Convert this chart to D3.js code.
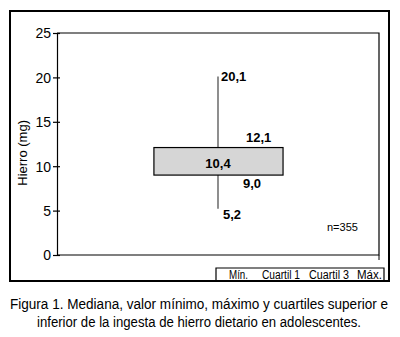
<!DOCTYPE html>
<html>
<head>
<meta charset="utf-8">
<script src="https://cdn.jsdelivr.net/npm/d3@7"></script>
<style>
  body { margin: 0; background: #fff; }
  text { font-family: "Liberation Sans", Arial, sans-serif; fill: #000; }
</style>
</head>
<body>
<div id="chart"></div>
<script>
// box plot stats (mg de hierro)
const statNames = ["Mín.", "Cuartil 1", "Cuartil 3", "Máx."];
const statValues = [5.2, 9.0, 12.1, 20.1];
const median = 10.4;
const yTicks = [0, 5, 10, 15, 20, 25];
const nLabel = "n=355";
const caption = [
    "Figura 1. Mediana, valor mínimo, máximo y cuartiles superior e",
    "inferior de la ingesta de hierro dietario en adolescentes."
];

const fmt = d3.formatLocale({ decimal: ",", thousands: ".", grouping: [3], currency: ["", ""] }).format(".1f");

const width = 400;
const height = 337;

const svg = d3.select("#chart")
    .append("svg")
    .attr("width", width)
    .attr("height", height);

// outer frame
svg.append("rect")
    .attr("x", 10).attr("y", 11)
    .attr("width", 379).attr("height", 270)
    .attr("fill", "none")
    .attr("stroke", "#000")
    .attr("stroke-width", 2);

const x = d3.scaleLinear().domain([0, 1]).range([57, 379]);
const y = d3.scaleLinear().domain([0, 25]).range([255, 33]);

// y axis with crossing ticks
const yAxis = svg.append("g")
    .attr("transform", "translate(" + x(0) + ",0)")
    .call(d3.axisLeft(y).tickValues(yTicks).tickSize(4).tickPadding(2).tickSizeOuter(0));
yAxis.select(".domain").attr("stroke", "#000").attr("stroke-width", 1.2);
yAxis.selectAll(".tick line").attr("x2", 3).attr("x1", -4).attr("stroke-width", 1.2);
yAxis.selectAll(".tick text")
    .attr("font-size", 14)
    .attr("font-family", "Liberation Sans, Arial, sans-serif")
    .attr("dy", "0.35em");

// plot border (top, right, bottom)
svg.append("path")
    .attr("d", "M" + x(0) + "," + y(25) + "H" + x(1) + "V" + y(0) + "H" + x(0))
    .attr("fill", "none")
    .attr("stroke", "#000")
    .attr("stroke-width", 1.2);
svg.append("line")
    .attr("x1", x(1)).attr("x2", x(1))
    .attr("y1", y(0)).attr("y2", y(0) + 5)
    .attr("stroke", "#000");

// axis title
svg.append("text")
    .attr("transform", "translate(27," + y(11.5) + ") rotate(-90)")
    .attr("text-anchor", "middle")
    .attr("font-size", 13)
    .text("Hierro (mg)");

// whisker
const cx = x(0.5);
svg.append("line")
    .attr("x1", cx).attr("x2", cx)
    .attr("y1", y(statValues[3])).attr("y2", y(statValues[0]))
    .attr("stroke", "#444")
    .attr("stroke-width", 1.2);

// box
svg.append("rect")
    .attr("x", x(0.301))
    .attr("width", x(0.702) - x(0.301))
    .attr("y", y(statValues[2]))
    .attr("height", y(statValues[1]) - y(statValues[2]))
    .attr("fill", "#d6d6d6")
    .attr("stroke", "#000")
    .attr("stroke-width", 1.2);

// value labels
const labels = [
    { v: statValues[3], x: cx + 3, y: y(statValues[3]) + 4, anchor: "start" },
    { v: statValues[2], x: cx + 28, y: y(statValues[2]) - 6, anchor: "start" },
    { v: median, x: cx, y: y(median) + 5, anchor: "middle" },
    { v: statValues[1], x: cx + 25, y: y(statValues[1]) + 13, anchor: "start" },
    { v: statValues[0], x: cx + 5, y: y(statValues[0]) + 10, anchor: "start" }
];
svg.selectAll(".val").data(labels).enter().append("text")
    .attr("class", "val")
    .attr("x", d => d.x)
    .attr("y", d => d.y)
    .attr("text-anchor", d => d.anchor)
    .attr("font-size", 13)
    .attr("font-weight", "bold")
    .text(d => fmt(d.v));

svg.append("text")
    .attr("x", 327).attr("y", 231)
    .attr("font-size", 11)
    .text(nLabel);

// legend strip
svg.append("path")
    .attr("d", "M216,282V268H384V282")
    .attr("fill", "none")
    .attr("stroke", "#000")
    .attr("stroke-width", 1.2);
const legX = [229, 262, 309, 357];
const legW = [19, 38, 40, 25];
svg.selectAll(".leg").data(statNames).enter().append("text")
    .attr("class", "leg")
    .attr("x", (d, i) => legX[i])
    .attr("y", 279)
    .attr("font-size", 12)
    .attr("textLength", (d, i) => legW[i])
    .attr("lengthAdjust", "spacingAndGlyphs")
    .text(d => d);

// caption
const capW = [378, 324];
svg.selectAll(".cap").data(caption).enter().append("text")
    .attr("class", "cap")
    .attr("x", 199)
    .attr("y", (d, i) => 309 + i * 18)
    .attr("text-anchor", "middle")
    .attr("font-size", 14)
    .attr("textLength", (d, i) => capW[i])
    .attr("lengthAdjust", "spacingAndGlyphs")
    .text(d => d);
</script>
</body>
</html>
